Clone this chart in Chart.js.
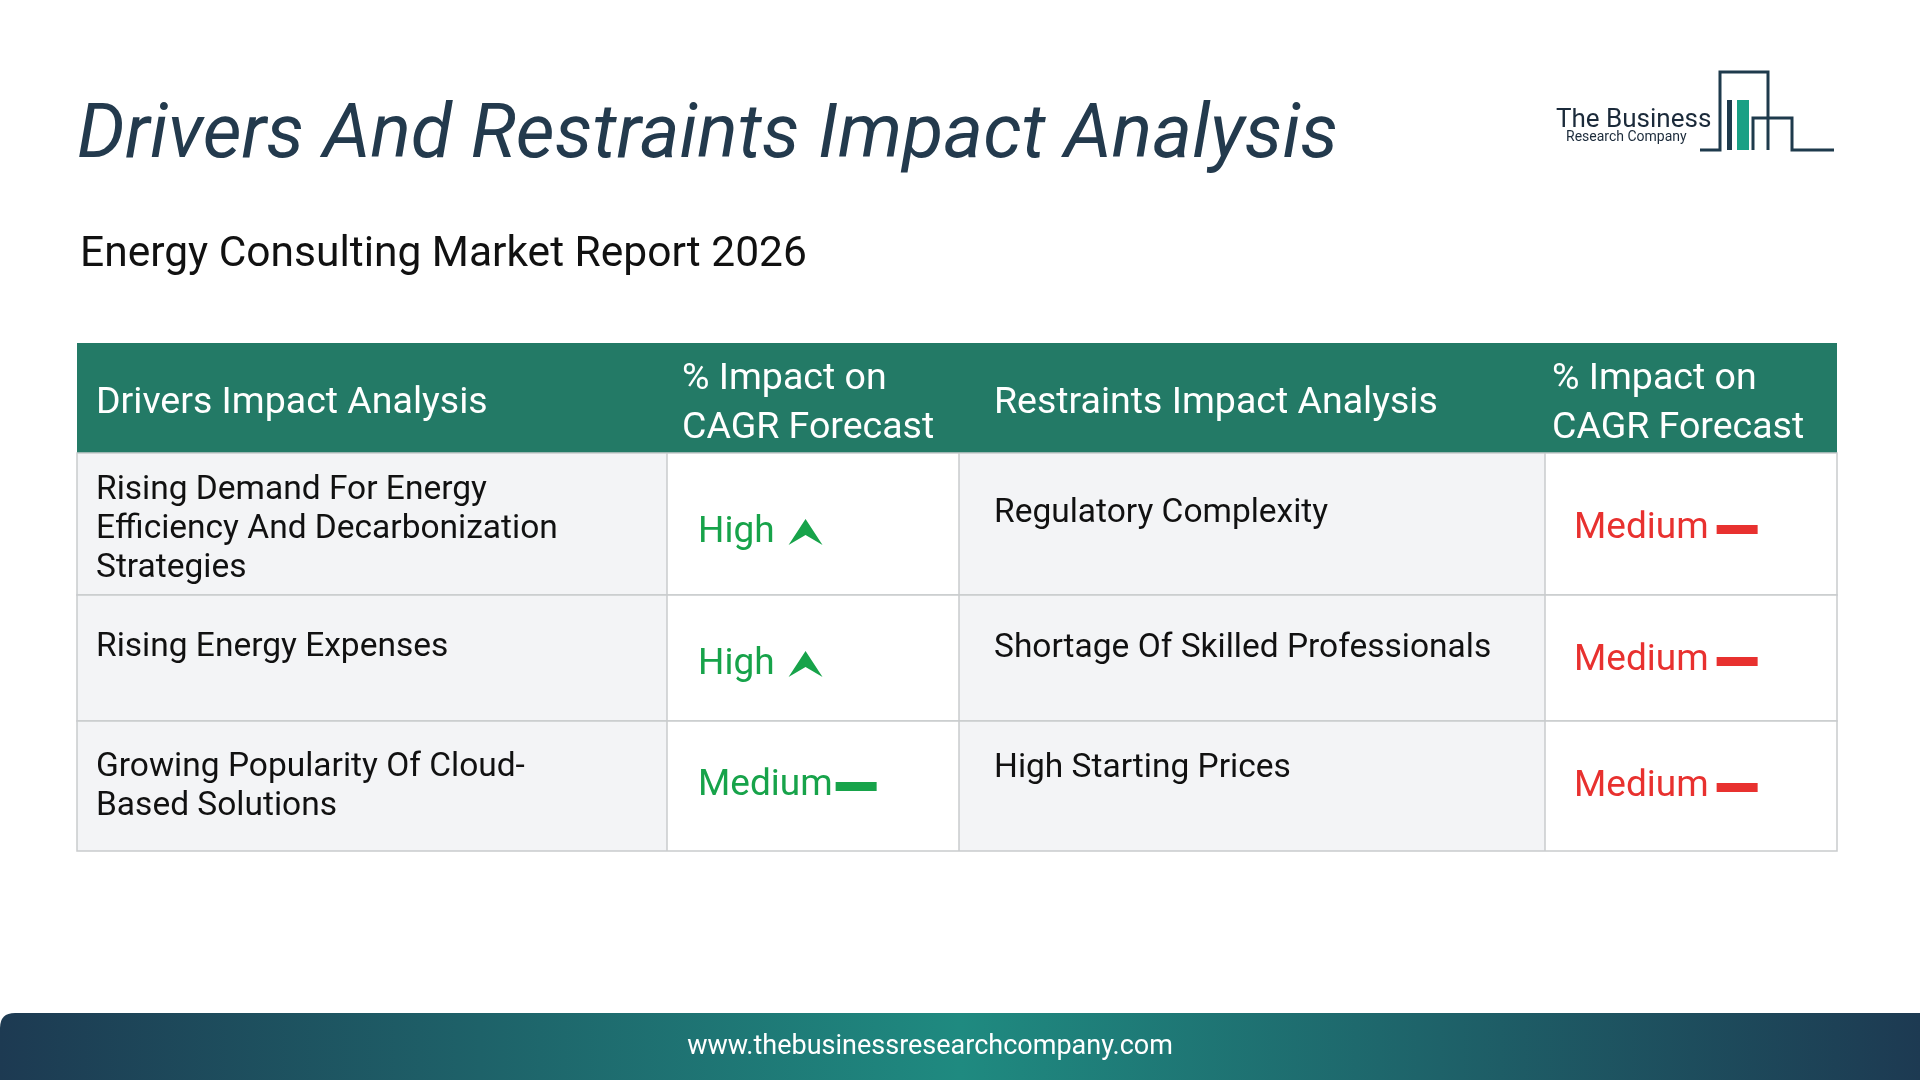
<!DOCTYPE html>
<html><head><meta charset="utf-8">
<script src="https://cdn.jsdelivr.net/npm/chart.js@4.4.1/dist/chart.umd.min.js"></script>
<style>html,body{margin:0;padding:0;background:#fff;overflow:hidden}#wrap{position:absolute;left:0;top:0;width:1920px;height:1080px}</style>
</head><body><div id="wrap"><canvas id="c" width="1920" height="1080"></canvas></div>
<script>
const title = "Drivers And Restraints Impact Analysis";
const subtitle = "Energy Consulting Market Report 2026";
const headers = ["Drivers Impact Analysis", "% Impact on\nCAGR Forecast", "Restraints Impact Analysis", "% Impact on\nCAGR Forecast"];
const drivers = ["Rising Demand For Energy\nEfficiency And Decarbonization\nStrategies", "Rising Energy Expenses", "Growing Popularity Of Cloud-\nBased Solutions"];
const driverImpact = ["High", "High", "Medium"];
const restraints = ["Regulatory Complexity", "Shortage Of Skilled Professionals", "High Starting Prices"];
const restraintImpact = ["Medium", "Medium", "Medium"];
const footer = "www.thebusinessresearchcompany.com";

const colX = [77, 667, 959, 1545, 1837];
const rowY = [343, 453, 595, 721, 851];
const drvOff = [38, 53, 47];
const resOff = [61, 54, 48];
const impOff = [9, 7, 0];
const F = "Roboto, 'Noto Sans', sans-serif";

function impactColor(v, isDriver){ return isDriver ? '#17a34a' : '#e8312f'; }

const tablePlugin = {
  id:'tbl',
  afterDraw(chart){
    const ctx = chart.ctx;
    ctx.save();
    ctx.fillStyle = '#233a4d';
    ctx.font = `italic 400 75.5px ${F}`;
    ctx.textBaseline = 'alphabetic';
    ctx.fillText(title, 77, 157);
    ctx.fillStyle = '#111';
    ctx.font = `400 42.5px ${F}`;
    ctx.fillText(subtitle, 80, 266);
    ctx.fillStyle = '#1b2a3a';
    ctx.font = `400 26px ${F}`;
    ctx.fillText("The Business", 1556, 127);
    ctx.font = `400 14px ${F}`;
    ctx.fillText("Research Company", 1566, 141);
    ctx.strokeStyle = '#1e3a4c'; ctx.lineWidth = 3;
    ctx.beginPath();
    ctx.moveTo(1700,150); ctx.lineTo(1720,150); ctx.lineTo(1720,72); ctx.lineTo(1768,72); ctx.lineTo(1768,150);
    ctx.moveTo(1753,150); ctx.lineTo(1753,118); ctx.lineTo(1792,118); ctx.lineTo(1792,150); ctx.lineTo(1834,150);
    ctx.moveTo(1720,100); ctx.lineTo(1720,150);
    ctx.stroke();
    ctx.fillStyle = '#1aa085'; ctx.fillRect(1737,100,12,50);
    ctx.fillStyle = '#1e3a4c'; ctx.fillRect(1727,100,5,50);
    ctx.fillStyle = '#237a66';
    ctx.fillRect(colX[0], rowY[0], colX[4]-colX[0], rowY[1]-rowY[0]);
    ctx.fillStyle = '#fff';
    ctx.font = `400 37.5px ${F}`;
    ctx.textBaseline = 'middle';
    const hx = [19, 15, 35, 7];
    headers.forEach((h,i)=>{
      const lines = h.split('\n');
      const cy = (rowY[0]+rowY[1])/2 + 6;
      lines.forEach((l,j)=>ctx.fillText(l, colX[i]+hx[i], cy + (j-(lines.length-1)/2)*49));
    });
    for(let r=0;r<3;r++){
      const y0=rowY[r+1], y1=rowY[r+2];
      for(let c=0;c<4;c++){
        ctx.fillStyle = (c%2===0)?'#f3f4f6':'#ffffff';
        ctx.fillRect(colX[c], y0, colX[c+1]-colX[c], y1-y0);
      }
      ctx.strokeStyle = '#c9cbcd'; ctx.lineWidth = 1.5;
      ctx.strokeRect(colX[0], y0, colX[4]-colX[0], y1-y0);
      for(let c=1;c<4;c++){ctx.beginPath();ctx.moveTo(colX[c],y0);ctx.lineTo(colX[c],y1);ctx.stroke();}
      ctx.fillStyle = '#111';
      ctx.font = `400 33.5px ${F}`;
      ctx.textBaseline = 'middle';
      drivers[r].split('\n').forEach((l,j)=>ctx.fillText(l, colX[0]+19, y0+drvOff[r]+j*39));
      ctx.fillText(restraints[r], colX[2]+35, y0+resOff[r]);
      [[driverImpact[r],1,true],[restraintImpact[r],3,false]].forEach(([v,c,isD])=>{
        ctx.fillStyle = impactColor(v,isD);
        ctx.font = `400 37px ${F}`;
        ctx.textBaseline = 'middle';
        const x = colX[c] + (isD?31:29);
        const cy = (y0+y1)/2 + impOff[r];
        const yy = isD ? cy : cy - 4 + (r===2?5:0);
        ctx.fillText(v, x, yy);
        const w = ctx.measureText(v).width;
        if(v==='High'){
          const ax = x+w+14, ay=yy;
          ctx.beginPath();
          ctx.moveTo(ax, ay+12); ctx.lineTo(ax+17, ay-14); ctx.lineTo(ax+34, ay+12);
          ctx.lineTo(ax+17, ay+2); ctx.closePath(); ctx.fill();
        } else {
          ctx.fillRect(x+w+(isD?3:8), yy-4, 41, 9);
        }
      });
    }
    const g = ctx.createLinearGradient(0,0,1920,0);
    g.addColorStop(0,'#1d3a52'); g.addColorStop(0.5,'#1f8a80'); g.addColorStop(1,'#1d3a52');
    ctx.fillStyle = g;
    ctx.beginPath();
    ctx.moveTo(0,1080); ctx.lineTo(0,1028); ctx.quadraticCurveTo(0,1013,15,1013);
    ctx.lineTo(1920,1013); ctx.lineTo(1920,1080); ctx.closePath(); ctx.fill();
    ctx.fillStyle = '#fff';
    ctx.font = `400 27px ${F}`;
    ctx.textAlign = 'center'; ctx.textBaseline='middle';
    ctx.fillText(footer, 930, 1047);
    ctx.restore();
  }
};

new Chart(document.getElementById('c'), {
  type:'bar',
  data:{labels:drivers.map((d,i)=>i), datasets:[{data:[],backgroundColor:'transparent'}]},
  options:{responsive:false, animation:false, events:[],
    plugins:{legend:{display:false},tooltip:{enabled:false}},
    scales:{x:{display:false},y:{display:false}}},
  plugins:[tablePlugin]
});
</script></body></html>
